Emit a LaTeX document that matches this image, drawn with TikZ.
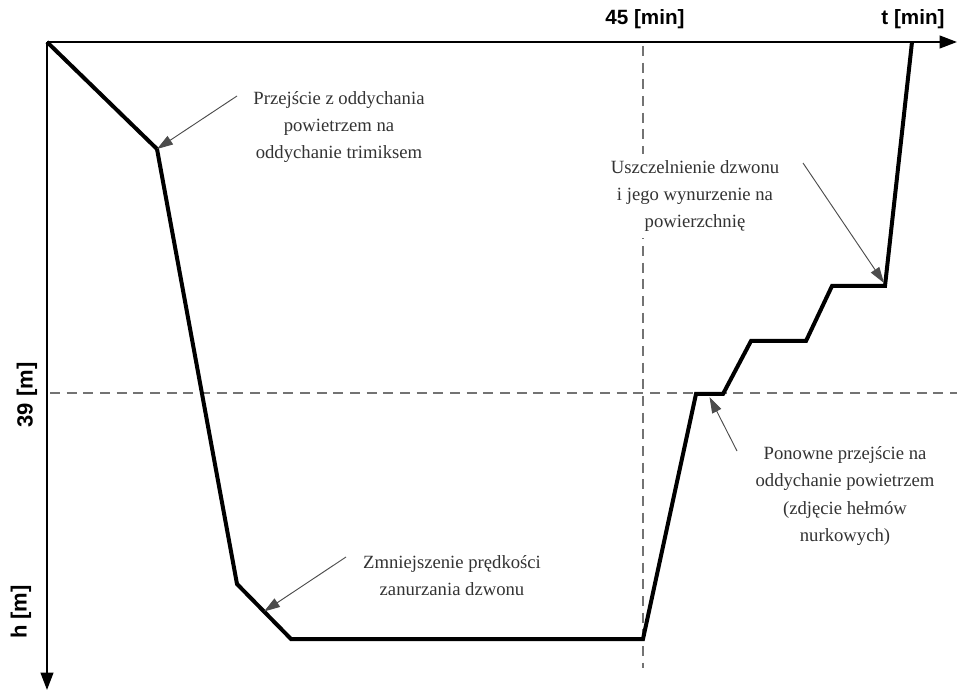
\documentclass[tikz,border=0pt]{standalone}
\usepackage{fontspec}
\setmainfont{Liberation Serif}
\setsansfont{Liberation Sans}
\usetikzlibrary{arrows.meta,calc}

\begin{document}
\begin{tikzpicture}[x=0.75pt,y=-0.75pt,
  axis/.style={line width=1.5pt,-{Triangle[length=13pt,width=9.5pt]}},
  profile/.style={line width=3pt,line join=miter},
  guide/.style={black!55,line width=0.9pt,dash pattern=on 7.5pt off 5pt},
  note/.style={align=center,text=black!80,font=\fontsize{14}{20.3}\selectfont},
  pointer/.style={black!70,line width=0.7pt,-{Triangle[length=12pt,width=7.5pt]}},
  axlabel/.style={font=\sffamily\bfseries\fontsize{15.5}{18}\selectfont}]

\useasboundingbox (0,0) rectangle (957,691);

% axes
\coordinate (o) at (47,42);
\coordinate (tend) at (957,42);
\coordinate (hend) at (47,690);
\draw[axis] (o) -- (tend);
\draw[axis] (o) -- (hend);

\node[axlabel] (t45) at (645,19) {45 [min]};
\node[axlabel] (tmin) at (913,19) {t [min]};
\node[axlabel,rotate=90,font=\sffamily\bfseries\fontsize{16.5}{18}\selectfont] (h39) at (27,395) {39 [m]};
\node[axlabel,rotate=90,font=\sffamily\bfseries\fontsize{16.5}{18}\selectfont] (hm) at (21,612) {h [m]};

% 45 min and 39 m guides
\coordinate (g1) at (643,46);
\coordinate (g2) at (643,668);
\coordinate (g3) at (50,393);
\coordinate (g4) at (957,393);
\draw[guide] (g1) -- (g2);
\draw[guide] (g3) -- (g4);

% dive profile
\foreach \n/\x/\y in {0/47/42, 1/157/149, 2/237/584, 3/291/639, 4/643/639,
    5/696/394, 6/723/394, 7/751/341, 8/806/341, 9/832/286, 10/885/286, 11/912/42}
  {\coordinate (p\n) at (\x,\y);}
\draw[profile] (p0) -- (p1) -- (p2) -- (p3) -- (p4) -- (p5) -- (p6)
  -- (p7) -- (p8) -- (p9) -- (p10) -- (p11);

% notes
\node[note] (n1) at (339,127) {Przejście z oddychania\\powietrzem na\\oddychanie trimiksem};
\node[note] (n2) at (452,576) {Zmniejszenie prędkości\\zanurzania dzwonu};
\node[note,fill=white,inner ysep=5pt] (n3) at (695,196) {Uszczelnienie dzwonu\\i jego wynurzenie na\\powierzchnię};
\node[note] (n4) at (845,496) {Ponowne przejście na\\oddychanie powietrzem\\(zdjęcie hełmów\\nurkowych)};

\coordinate (a1) at (237,96);
\coordinate (a2) at (346,557);
\coordinate (a3) at (803,163);
\coordinate (a4) at (737,451);
\coordinate (m23) at ($(p2)!0.5!(p3)$);
\coordinate (m56) at ($(p5)!0.5!(p6)+(0,3)$);

\draw[pointer] (a1) -- (p1);
\draw[pointer] (a2) -- (m23);
\draw[pointer] (a3) -- ($(p10)+(-1,-3)$);
\draw[pointer] (a4) -- (m56);
\end{tikzpicture}
\end{document}
